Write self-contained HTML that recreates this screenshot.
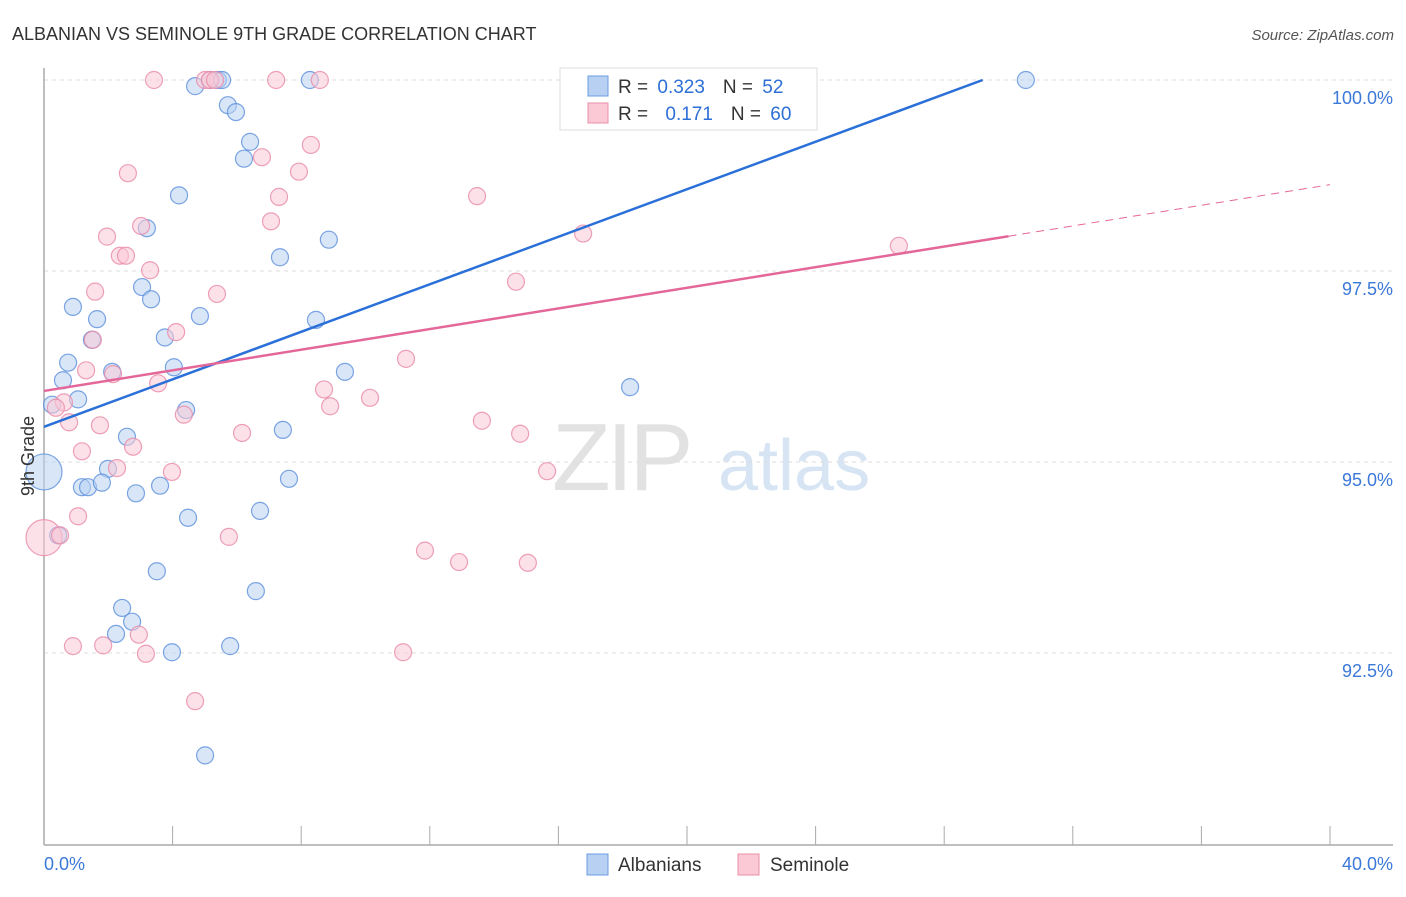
<!DOCTYPE html>
<html><head><meta charset="utf-8"><style>
body{margin:0;background:#fff;font-family:"Liberation Sans",sans-serif;}
svg text{font-family:"Liberation Sans",sans-serif;}
</style></head><body>
<svg id="chart" width="1406" height="892" xmlns="http://www.w3.org/2000/svg">
<text x="12" y="40" font-size="18" fill="#333">ALBANIAN VS SEMINOLE 9TH GRADE CORRELATION CHART</text>
<text x="1394" y="40" font-size="15" fill="#555" font-style="italic" text-anchor="end">Source: ZipAtlas.com</text>
<g>
<text x="552" y="490" font-size="96" fill="#e2e2e2" font-family="Liberation Serif" letter-spacing="-4">ZIP</text>
<text x="718" y="490" font-size="72" fill="#d6e4f4">atlas</text>
</g>
<g id="grid"></g>
<g id="axes"></g>
<g id="points"></g>
<g id="lines"></g>
<g>
<rect x="560" y="68" width="257" height="62" fill="#fff" stroke="#ddd"/>
<rect x="588" y="76" width="20" height="20" fill="#b8d1f3" stroke="#6a9be0"/>
<text x="618" y="93" font-size="19" fill="#333">R = <tspan fill="#2d6fd6" dx="4">0.323</tspan><tspan dx="18" fill="#333">N = </tspan><tspan fill="#2d6fd6" dx="4">52</tspan></text>
<rect x="588" y="103" width="20" height="20" fill="#fbc8d6" stroke="#ea8fab"/>
<text x="618" y="120" font-size="19" fill="#333">R = <tspan fill="#2d6fd6" dx="12">0.171</tspan><tspan dx="18" fill="#333">N = </tspan><tspan fill="#2d6fd6" dx="4">60</tspan></text>
</g>
<g>
<rect x="587" y="854" width="21" height="21" fill="#b8d1f3" stroke="#6a9be0"/>
<text x="618" y="871" font-size="19" fill="#333">Albanians</text>
<rect x="738" y="854" width="21" height="21" fill="#fbc8d6" stroke="#ea8fab"/>
<text x="770" y="871" font-size="19" fill="#333">Seminole</text>
</g>
<text transform="translate(34,456) rotate(-90)" font-size="18" fill="#333" text-anchor="middle">9th Grade</text>
</svg>
<script>
const blueX=[30.54,4.70,8.27,5.16,5.41,5.54,5.72,5.97,6.41,6.22,4.20,3.20,8.86,7.34,3.05,3.33,0.90,1.65,4.85,8.46,3.76,1.49,0.75,4.04,2.12,0.59,9.36,18.23,1.06,0.25,4.42,7.43,2.58,0,1.99,7.62,1.18,1.37,1.80,3.61,2.86,4.48,6.72,0.44,3.51,6.59,2.43,2.74,2.24,3.98,5.79,5.01];
const blueY=[100,99.92,100,100,100,100,99.67,99.58,99.19,98.97,98.49,98.06,97.91,97.68,97.29,97.13,97.03,96.87,96.91,96.86,96.63,96.60,96.30,96.24,96.18,96.07,96.18,95.98,95.82,95.75,95.68,95.42,95.33,94.87,94.91,94.78,94.67,94.67,94.73,94.69,94.59,94.27,94.36,94.04,93.57,93.31,93.09,92.91,92.75,92.51,92.59,91.16];
const blueBig=[33];
const pinkX=[3.42,5.01,5.16,5.32,7.22,8.58,8.30,6.78,2.61,7.93,7.31,13.47,3.02,7.06,1.96,16.77,26.59,2.36,2.55,3.30,1.59,5.38,14.68,4.11,1.52,11.26,1.31,2.15,3.55,8.71,10.14,0.62,8.90,0.37,0.78,1.74,4.35,13.62,6.16,14.81,2.77,1.18,2.27,3.98,15.65,1.06,5.75,0,0.50,11.85,12.91,15.05,0.90,1.84,2.95,3.17,11.17,4.70];
const pinkY=[100,100,100,100,100,100,99.15,98.99,98.78,98.80,98.47,98.48,98.09,98.15,97.95,97.99,97.83,97.70,97.70,97.51,97.23,97.20,97.36,96.70,96.60,96.35,96.20,96.15,96.03,95.95,95.84,95.78,95.73,95.71,95.52,95.48,95.62,95.54,95.38,95.37,95.20,95.14,94.92,94.87,94.88,94.29,94.02,94.01,94.04,93.84,93.69,93.68,92.59,92.60,92.74,92.49,92.51,91.87];
const pinkBig=[47];
const blueTrend=[95.46,0.1555];
const pinkTrend=[95.93,0.0675];
const pinkSolidEnd=30.0;
const yTicks=[100,97.5,95,92.5];
const yTickLabels=["100.0%","97.5%","95.0%","92.5%"];
const xTicks=[0,4,8,12,16,20,24,28,32,36,40];

const NS="http://www.w3.org/2000/svg";
const X=v=>44+v*32.15;
const Y=v=>80+(100-v)/2.5*191;
function mk(tag,attrs,parent){const e=document.createElementNS(NS,tag);for(const k in attrs)e.setAttribute(k,attrs[k]);document.getElementById(parent).appendChild(e);return e;}

yTicks.forEach((t,i)=>{
  const l=mk('line',{x1:44,x2:1393,y1:Y(t),y2:Y(t),stroke:'#ddd','stroke-dasharray':'4,4'},'grid');
  
  
  const tx=mk('text',{x:1393,y:Y(t)+24,'font-size':18,fill:'#3b78d8','text-anchor':'end'},'grid');
  tx.textContent=yTickLabels[i];
  
  
});
const ya=mk('line',{x1:44,x2:44,y1:68,y2:845,stroke:'#aaa','stroke-width':1.5},'axes');


const xa=mk('line',{x1:44,x2:1393,y1:845,y2:845,stroke:'#aaa','stroke-width':1.5},'axes');


xTicks.forEach(t=>{
  const tk=mk('line',{x1:X(t),x2:X(t),y1:826,y2:845,stroke:'#aaa'},'axes');
  
  
});
const xl0=mk('text',{x:44,y:870,'font-size':18,fill:'#3b78d8'},'axes');xl0.textContent='0.0%';


const xl1=mk('text',{x:1393,y:870,'font-size':18,fill:'#3b78d8','text-anchor':'end'},'axes');xl1.textContent='40.0%';



function dots(xs,ys,big,fill,stroke,name){
  xs.forEach((x,i)=>{
    const c=mk('circle',{cx:X(x),cy:Y(ys[i]),r:big.includes(i)?18:8.5,fill:fill,'fill-opacity':0.55,stroke:stroke,'stroke-opacity':0.8,'stroke-width':1.2},'points');
    
    
  });
}
dots(blueX,blueY,blueBig,'#b8d1f3','#5b8fdc','albanian-point');
dots(pinkX,pinkY,pinkBig,'#fbc8d6','#e88aa8','seminole-point');

const bEnd=(100-blueTrend[0])/blueTrend[1];
const bl=mk('line',{x1:X(0),y1:Y(blueTrend[0]),x2:X(bEnd),y2:Y(100),stroke:'#2a70d8','stroke-width':2.5},'lines');


const pl=mk('line',{x1:X(0),y1:Y(pinkTrend[0]),x2:X(pinkSolidEnd),y2:Y(pinkTrend[0]+pinkTrend[1]*pinkSolidEnd),stroke:'#e4679a','stroke-width':2.5},'lines');


const pd=mk('line',{x1:X(pinkSolidEnd),y1:Y(pinkTrend[0]+pinkTrend[1]*pinkSolidEnd),x2:X(40),y2:Y(pinkTrend[0]+pinkTrend[1]*40),stroke:'#e4679a','stroke-width':1,'stroke-dasharray':'8,6'},'lines');


</script>
</body></html>
